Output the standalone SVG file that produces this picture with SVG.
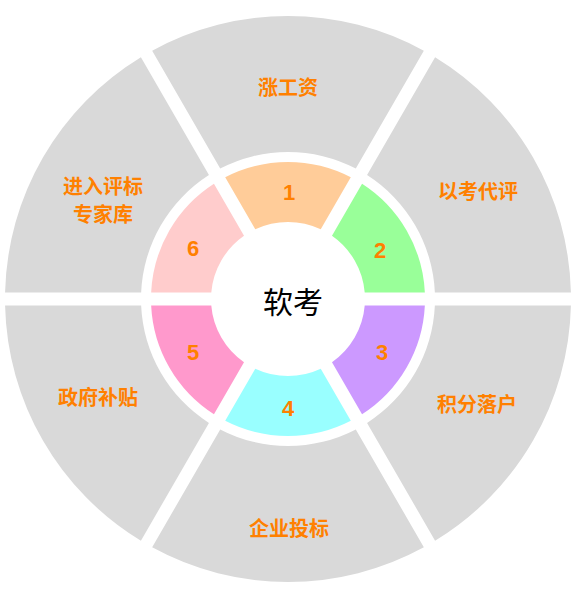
<svg xmlns="http://www.w3.org/2000/svg" width="577" height="603" viewBox="0 0 577 603">
<style>
.g{fill:#D9D9D9}
.lbl{font-family:"Noto Sans CJK SC","Liberation Sans",sans-serif;font-size:20px;font-weight:bold;fill:#FF8000;text-anchor:middle;dominant-baseline:central}
.num{font-family:"Liberation Sans","DejaVu Sans",sans-serif;font-size:22px;font-weight:bold;fill:#FF8000;text-anchor:middle;dominant-baseline:central}
.ctr{font-family:"Noto Sans CJK SC",sans-serif;font-size:30px;fill:#000;text-anchor:middle;dominant-baseline:central}
</style>
<rect width="577" height="603" fill="#FFFFFF"/>
<g id="outer-top">
<path class="g" d="M423.834,50.730 A283,283 0 0 0 152.166,50.730 L220.201,168.569 A147,147 0 0 1 355.799,168.569 Z"/>
<text class="lbl" x="288" y="86">涨工资</text>
</g>
<g id="outer-upper-right">
<path class="g" d="M570.925,292.5 A283,283 0 0 0 435.092,57.230 L367.057,175.069 A147,147 0 0 1 434.856,292.5 Z"/>
<text class="lbl" x="478" y="190">以考代评</text>
</g>
<g id="outer-lower-right">
<path class="g" d="M435.092,540.770 A283,283 0 0 0 570.925,305.5 L434.856,305.5 A147,147 0 0 1 367.057,422.931 Z"/>
<text class="lbl" x="477" y="403">积分落户</text>
</g>
<g id="outer-bottom">
<path class="g" d="M152.166,547.270 A283,283 0 0 0 423.834,547.270 L355.799,429.431 A147,147 0 0 1 220.201,429.431 Z"/>
<text class="lbl" x="289" y="527">企业投标</text>
</g>
<g id="outer-lower-left">
<path class="g" d="M5.075,305.5 A283,283 0 0 0 140.908,540.770 L208.943,422.931 A147,147 0 0 1 141.144,305.5 Z"/>
<text class="lbl" x="98" y="396">政府补贴</text>
</g>
<g id="outer-upper-left">
<path class="g" d="M140.908,57.230 A283,283 0 0 0 5.075,292.5 L141.144,292.5 A147,147 0 0 1 208.943,175.069 Z"/>
<text class="lbl" x="103" y="185">进入评标</text>
<text class="lbl" x="103" y="213">专家库</text>
</g>
<g id="inner-1">
<path fill="#FFCC99" d="M350.794,177.238 A137,137 0 0 0 225.206,177.238 L255.266,229.304 A77,77 0 0 1 320.734,229.304 Z"/>
<text class="num" x="289" y="192">1</text>
</g>
<g id="inner-2">
<path fill="#99FF99" d="M424.846,292.5 A137,137 0 0 0 362.052,183.738 L331.992,235.804 A77,77 0 0 1 364.725,292.5 Z"/>
<text class="num" x="380" y="250">2</text>
</g>
<g id="inner-3">
<path fill="#CC99FF" d="M362.052,414.262 A137,137 0 0 0 424.846,305.5 L364.725,305.5 A77,77 0 0 1 331.992,362.196 Z"/>
<text class="num" x="382" y="352">3</text>
</g>
<g id="inner-4">
<path fill="#99FFFF" d="M225.206,420.762 A137,137 0 0 0 350.794,420.762 L320.734,368.696 A77,77 0 0 1 255.266,368.696 Z"/>
<text class="num" x="288" y="408">4</text>
</g>
<g id="inner-5">
<path fill="#FF99CC" d="M151.154,305.5 A137,137 0 0 0 213.948,414.262 L244.008,362.196 A77,77 0 0 1 211.275,305.5 Z"/>
<text class="num" x="193" y="352">5</text>
</g>
<g id="inner-6">
<path fill="#FFCCCC" d="M213.948,183.738 A137,137 0 0 0 151.154,292.5 L211.275,292.5 A77,77 0 0 1 244.008,235.804 Z"/>
<text class="num" x="193" y="248">6</text>
</g>
<g id="center">
<circle cx="288" cy="299" r="76" fill="#FFFFFF"/>
<text class="ctr" x="293" y="300">软考</text>
</g>
<g id="connectors"/>
</svg>
